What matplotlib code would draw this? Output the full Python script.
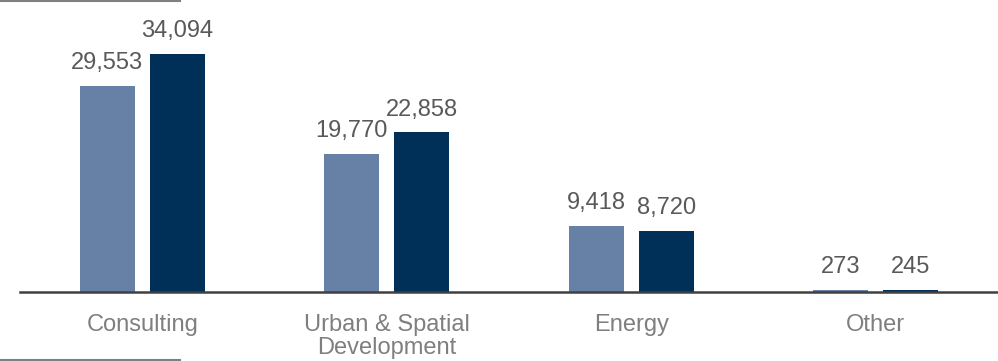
import numpy as np
import matplotlib.pyplot as plt
from matplotlib.lines import Line2D

plt.rcParams['font.family'] = ['Liberation Sans', 'DejaVu Sans']

categories = ['Consulting', 'Urban & Spatial\nDevelopment', 'Energy', 'Other']
prev_year = [29553, 19770, 9418, 273]
this_year = [34094, 22858, 8720, 245]

light = '#6781a6'
dark = '#003057'

fig = plt.figure(figsize=(9.98, 3.61), dpi=100)
ax = fig.add_axes([20 / 998, 69 / 361, 978 / 998, 292 / 361])

x = np.arange(len(categories))
width = 0.225
off = 0.143
b1 = ax.bar(x - off, prev_year, width=width, color=light)
b2 = ax.bar(x + off, this_year, width=width, color=dark)

for bars in (b1, b2):
    for rect in bars:
        h = rect.get_height()
        ax.annotate(f'{h:,.0f}', (rect.get_x() + rect.get_width() / 2, h),
                    xytext=(0, 8.5), textcoords='offset points',
                    ha='center', va='bottom', fontsize=17, color='#595959')

ax.set_xlim(-0.5, 3.5)
ax.set_ylim(0, 41830)
ax.set_xticks(x, categories)
ax.tick_params(axis='x', length=0, pad=16, labelsize=17, labelcolor='#7f7f7f')
for lbl in ax.get_xticklabels():
    lbl.set_linespacing(1.05)
ax.set_yticks([])
for s in ['top', 'right', 'left']:
    ax.spines[s].set_visible(False)
ax.spines['bottom'].set_color('#404040')
ax.spines['bottom'].set_linewidth(1.8)

# short grey rules at the top and bottom left corners
fig.add_artist(Line2D([0, 180 / 998], [1 - 1 / 361, 1 - 1 / 361], color='#808080', lw=1.5))
fig.add_artist(Line2D([0, 180 / 998], [1.5 / 361, 1.5 / 361], color='#808080', lw=1.5))

fig.savefig('out.png', dpi=100)
